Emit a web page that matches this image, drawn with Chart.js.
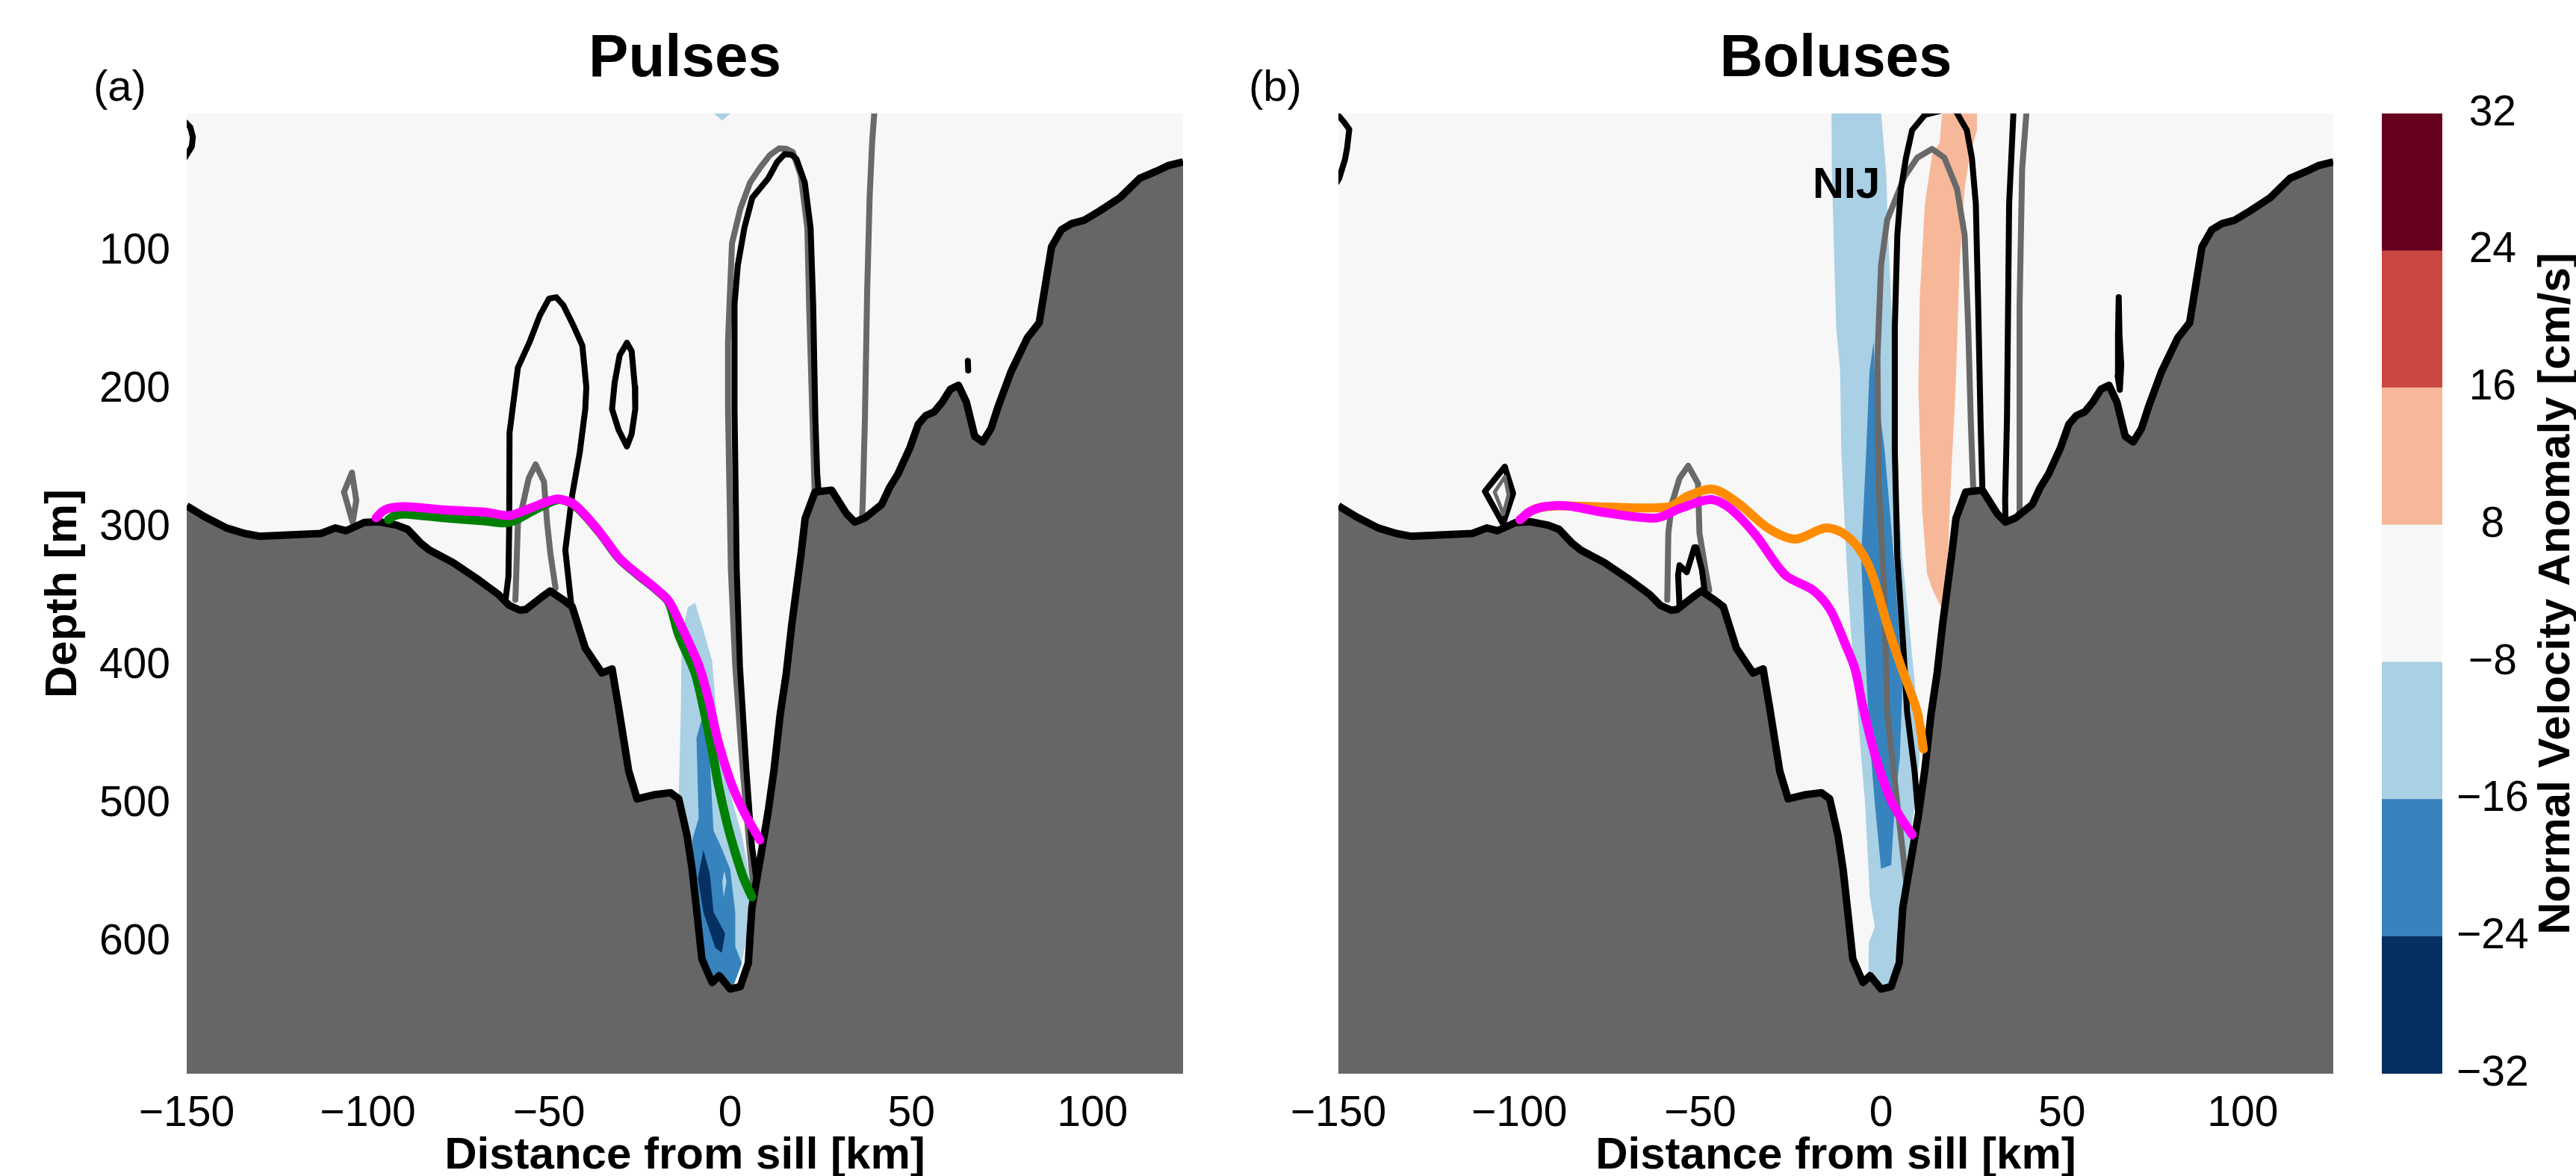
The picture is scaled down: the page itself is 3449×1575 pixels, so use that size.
<!DOCTYPE html>
<html>
<head>
<meta charset="utf-8">
<title>Pulses / Boluses</title>
<script src="https://cdn.jsdelivr.net/npm/chart.js@4.4.1/dist/chart.umd.min.js"></script>
<style>
  html, body { margin: 0; padding: 0; background: #fff; }
  #wrap { position: relative; width: 3449px; height: 1575px; overflow: hidden; }
  #wrap canvas { position: absolute; top: 0; }
</style>
</head>
<body>
<div id="wrap">
  <canvas id="panelA" width="1700" height="1575" style="left:0px"></canvas>
  <canvas id="panelB" width="1570" height="1575" style="left:1600px"></canvas>
  <canvas id="cbar" width="279" height="1575" style="left:3170px"></canvas>
</div>
<script>
// axis ticks
const xTicks = [-150, -100, -50, 0, 50, 100];
const yTicks = [100, 200, 300, 400, 500, 600];
const cbarTicks = ['\u221232', '\u221224', '\u221216', '\u22128', '8', '16', '24', '32'];
const cbarColors = ['#053061', '#3783bd', '#a9d0e4', '#f7f7f7', '#f7b899', '#ca4841', '#67001f'];

// sea floor, [km from sill, depth m]
const bathymetry = [[-150,284],[-145,292],[-139,300],[-134,304],[-130,306],[-121,305],[-113,304],[-109,300],[-106,302],[-101,296],[-97,295.5],[-92,298],[-89,301],[-85.4,311],[-83,316],[-76.5,325],[-70,336.5],[-64,348],[-61,356],[-58,359.5],[-56.4,359],[-52,350],[-49.7,345.6],[-46.3,351.6],[-43.6,357],[-40,387],[-35.4,405],[-32.6,402],[-30.8,430],[-28,476],[-25.7,496],[-20.7,493],[-16.5,491.6],[-14.2,496],[-11.9,522.6],[-10.5,547],[-9.2,578],[-7.8,612],[-5,629],[-3,624],[0,633.7],[2.8,632],[5,615],[6,575],[8.6,535],[10.5,505],[12.1,475],[13.8,435],[15.5,405],[17,370],[19.6,318],[20.7,293],[23.4,274],[28,272.6],[32.1,289.6],[34.4,295.7],[37.2,292.7],[41.8,283],[44,270.7],[46.3,261],[49.6,242],[51.9,225],[54,218.6],[56.3,216],[58.5,209],[60.8,199.5],[63,196.7],[65.2,209],[67.5,233.7],[69.7,237.7],[72,228],[74,211.8],[77.5,187],[82,162.5],[85.3,151.4],[88.7,96.6],[91.4,84.2],[94.3,79.6],[97.6,77.4],[102,70.5],[107.6,60.9],[113,47],[117.7,41.7],[121,37.6],[125,35]];

// panel (a): filled anomaly patches
const lightTipA = [[-5,-1],[0.5,-1],[-2.2,5]];
const lightA = [[-11.7,357.5],[-9.7,354],[-7.4,374],[-5,396],[-4.1,424],[-3.3,448],[-1.4,479],[3.2,522],[4.5,540],[6,565],[5.5,585],[4.5,597],[3.2,615],[0.5,634],[-3,624],[-5,629],[-7.8,612],[-9.2,578],[-10.5,547],[-11.9,522.6],[-14.2,496],[-13.6,430],[-13.4,377]];
const medA = [[-7.4,434],[-6,448],[-4.6,519],[-2.3,532],[0,547],[1.4,578],[1.4,603],[3.2,615],[0.5,634],[-3,624],[-5,629],[-7.8,612],[-9.7,553],[-10.5,526],[-8.7,510],[-9.3,452]];
const navyA = [[-7.4,533],[-5.6,550.5],[-4.6,578],[-1.4,593.5],[-2.3,607.5],[-4.1,604],[-7.4,578],[-8.9,553.5]];
const islandA = [[-1.6,548],[-1,556],[-1.8,567],[-2.2,556]];

// panel (a): contour lines
const blackArcA = [[-150.5,6],[-149,10],[-148.3,17],[-148.6,24],[-150.5,32]];
const grayDiamondA = [[-104.4,260],[-103.2,280],[-104.2,296],[-106.6,274],[-104.4,260]];
const blackTongueA = [[-62,352],[-61.2,335],[-61,300],[-60.9,231],[-58.6,184],[-55.3,165],[-52.5,146],[-50,134],[-48,133],[-46,139],[-43,155],[-40.8,168],[-39.7,198],[-40,214],[-41.5,245],[-43.6,276],[-45.5,316],[-44.5,340],[-43.8,357]];
const blackEllipseA = [[-28.5,166],[-27.2,172],[-26.3,198],[-26.2,214],[-27.2,232],[-28.5,241],[-30.8,229],[-32.6,214],[-31.9,195],[-30.5,175],[-28.5,166]];
const grayTongueA = [[-59.3,352],[-59.2,346],[-58.6,297],[-57.4,285],[-55.6,264],[-53.7,254],[-51.4,266.5],[-50.5,297],[-49.6,319],[-48.2,343.5]];
const grayLoopA = [[6.6,565],[5.3,530],[3.5,476],[1.4,400],[0.2,330],[-0.6,214],[-0.6,165],[0.5,94],[2.8,69],[5.5,50],[8.3,39],[11,30],[13.5,25.3],[15.5,25.5],[17.3,28],[19.5,45],[21.3,83],[21.8,140],[22.4,193],[23.3,272]];
const blackLoopA = [[7.3,556],[6,530],[4.5,476],[2.7,400],[1.8,330],[1.2,214],[1.2,138],[2.1,110],[3.9,83],[6.1,61],[10.5,47],[13,35],[15,29.4],[17,30],[18.3,33],[20.6,50],[22.2,83],[22.9,138],[23.5,220],[24,260],[24.4,274]];
const grayLineA = [[39.8,-1],[39.2,20],[38.5,60],[37.8,130],[37.2,220],[36.6,280],[36.4,294]];
const blackDotA = [[65.6,179],[65.7,186]];

// panel (a): plume paths
const greenA = [[-94.3,294],[-92.5,291],[-90,290],[-78.7,292.7],[-67.5,295],[-61,296],[-54,287],[-47.5,279.5],[-43,283.5],[-36.3,302.5],[-30.7,322],[-25.7,333.5],[-20.7,344],[-17,353.5],[-14.2,377.5],[-9.7,405],[-7.4,430],[-5,460.7],[-3.3,485.5],[-0.9,513.5],[1.4,535],[3.7,553.5],[6,567]];
const magentaA = [[-97.7,292.6],[-96,288],[-94.3,285.8],[-90,284.5],[-78.7,287],[-67.5,288.6],[-61,291],[-55.3,285.8],[-50,280.5],[-47.5,279],[-43,283],[-36.3,302],[-30.7,321.5],[-25.7,333],[-20.7,343.5],[-17,352.7],[-13.4,371.5],[-8.7,399],[-6,423.6],[-3.3,454.7],[0.4,485.5],[4.1,507],[8.2,525.8]];

// panel (b): filled anomaly patches
const lightB = [[-13.7,-1],[-13.6,43],[-12.4,155],[-11.3,187],[-11,244],[-9.6,321.5],[-8.6,366],[-7.2,411],[-5.8,455],[-4.4,500],[-3.1,567],[-1.7,589],[-3.4,600],[-3.5,629],[0.4,636],[3.1,631],[5.9,567],[7.2,544],[9.3,500],[10.7,466],[9.3,411],[5.9,321.5],[4,244],[3.1,155],[2,88],[1.4,43],[0,-1]];
const medB = [[-2.05,165],[-3.2,187],[-4.1,244],[-5.5,321.5],[-4.4,388],[-3.1,455],[-1.7,500],[0,546.6],[2.8,544],[3.8,500],[5.2,466],[5.9,411],[3.8,330],[1,244],[-1.8,187]];
const salmonB = [[16.9,-1],[16.2,21],[14.1,30],[12.1,65.6],[10.7,133],[10.3,199.6],[11.4,288.7],[12.7,333],[14.1,344],[16.5,357],[18.3,333],[19.3,266],[20.6,199.6],[21.7,110],[23.1,54.6],[24.4,32],[26.5,12],[26.5,-1]];

// panel (b): contour lines
const blackArcB = [[-150.5,0],[-148.5,6],[-147,11.5],[-147.6,25],[-148.2,33.5],[-149.8,47],[-150.5,50]];
const blackDiamondB = [[-104,255.7],[-101.7,275],[-104.5,297],[-109.5,273.5],[-104,255.7]];
const grayDiamondB = [[-104,263],[-103,276],[-104.4,290],[-106.8,274],[-104,263]];
const grayTongueB = [[-59.1,352],[-58.8,303.6],[-57.8,282],[-55.7,264],[-53.3,255],[-50.6,267.7],[-50.2,303.6],[-48.5,330.5],[-47.5,345]];
const blackSpikeB = [[-55.7,357],[-56.1,334],[-55.7,327],[-53.7,332],[-51.6,314],[-51.1,314],[-49.5,330.5],[-48.8,345]];
const grayLoopB = [[6.9,555],[4.5,500],[1.7,433],[0.8,340],[-0.7,266],[-1,177],[0,110],[1.7,77],[6.5,45.7],[10,32],[14.1,25.7],[17.5,32],[21,54.6],[23.1,88],[24.1,155],[24.8,222],[25.5,273]];
const blackLoopLeftB = [[16.5,-2],[12.1,1],[8.6,12],[6.9,32],[5.5,54.6],[4.5,88],[3.8,155],[3.8,244],[4.5,321],[6.2,388],[7.2,433],[9.3,477],[10.2,505]];
const blackLoopRightB = [[20.6,-2],[23.7,12],[25.1,32],[26.2,65.6],[26.8,133],[27.5,222],[28,271]];
const blackLineB = [[36.6,-1],[35.4,65.6],[34.8,222],[34.3,280],[34.4,295]];
const grayLineB = [[40.2,-1],[39,40],[38.3,137.6],[38.3,288],[38,293]];
const blackSpikeEastB = [[65.7,133],[65.9,160],[66.4,182],[66,200],[65.4,190],[65.5,160],[65.7,133]];

// panel (b): plume paths
const orangeB = [[-99.8,294],[-97.5,289],[-95.2,285.8],[-89.5,284],[-76,284.8],[-58.8,284.8],[-53.3,276.7],[-46.4,272],[-39.5,282],[-31.3,300],[-23.7,308],[-15.5,300],[-10.6,303.6],[-5.8,316],[-2.4,334],[1.7,370],[5.5,400],[10,433],[11.7,460]];
const magentaB = [[-99.8,294],[-97,288],[-92.9,284.5],[-86.7,284],[-76,289],[-62.2,292.8],[-55.4,285.7],[-47.1,279.4],[-41.8,285.7],[-34.7,305],[-26.5,334],[-18.9,344.8],[-14.1,359],[-9.9,384],[-7.2,402],[-5.1,428.5],[-1.7,464],[2.4,495],[5.2,508.6],[8.6,522]];

const FONT = '"Liberation Sans", Arial, Helvetica, sans-serif';
const LIGHT = cbarColors[2], MED = cbarColors[1], NAVY = cbarColors[0], SALMON = cbarColors[4];
const TOPO = '#666666', GRAY = '#696969', BLACK = '#000000';
const LW = 8;      // contour lines
const PATH_W = 12; // plume paths

const pts = (arr) => arr.map(([x, y]) => ({ x, y }));
const fmt = (v) => (v < 0 ? '\u2212' + Math.abs(v) : String(v));

function line(arr, color, width, order, tension = 0) {
  return { data: pts(arr), borderColor: color, borderWidth: width, fill: false, pointRadius: 0,
    tension, order, clip: 0, borderCapStyle: 'round', borderJoinStyle: 'round' };
}
function patch(arr, color, order) {
  return { data: pts(arr), borderColor: 'rgba(0,0,0,0)', borderWidth: 1, backgroundColor: color,
    fill: 'shape', pointRadius: 0, order, clip: 0 };
}
function seabed(order) {
  return { data: pts(bathymetry), borderColor: BLACK, borderWidth: 10, backgroundColor: TOPO,
    fill: 'start', pointRadius: 0, order, clip: 0, borderJoinStyle: 'round' };
}

// background, panel titles, letters and in-plot notes
function decor(cfg) {
  return {
    id: 'decor',
    beforeDatasetsDraw(chart) {
      if (!cfg.background) return;
      const { ctx, chartArea: a } = chart;
      ctx.save();
      ctx.fillStyle = cfg.background;
      ctx.fillRect(a.left, a.top, a.right - a.left, a.bottom - a.top);
      ctx.restore();
    },
    afterDraw(chart) {
      const { ctx, chartArea: a, scales } = chart;
      ctx.save();
      ctx.fillStyle = '#000';
      ctx.textBaseline = 'alphabetic';
      if (cfg.title) {
        ctx.font = `bold 80px ${FONT}`;
        ctx.textAlign = 'center';
        ctx.fillText(cfg.title, (a.left + a.right) / 2, 102);
      }
      if (cfg.letter) {
        ctx.font = `58px ${FONT}`;
        ctx.textAlign = 'left';
        ctx.fillText(cfg.letter, cfg.letterX, 135);
      }
      (cfg.notes || []).forEach(([text, km, depth]) => {
        ctx.font = `bold 58px ${FONT}`;
        ctx.textAlign = 'center';
        ctx.fillText(text, scales.x.getPixelForValue(km), scales.y.getPixelForValue(depth));
      });
      if (cfg.sideLabel) {
        ctx.translate(cfg.sideX, (a.top + a.bottom) / 2);
        ctx.rotate(-Math.PI / 2);
        ctx.font = `bold 60px ${FONT}`;
        ctx.textAlign = 'center';
        ctx.fillText(cfg.sideLabel, 0, 0);
      }
      ctx.restore();
    }
  };
}

function panelChart(id, datasets, cfg) {
  return new Chart(document.getElementById(id), {
    type: 'line',
    data: { datasets },
    options: {
      responsive: false, animation: false, events: [], devicePixelRatio: 1,
      layout: { padding: { top: 152, right: cfg.padRight, bottom: 0, left: 0 } },
      plugins: { legend: { display: false }, tooltip: { enabled: false } },
      scales: {
        x: {
          type: 'linear', min: -150, max: 125,
          grid: { display: false }, border: { display: false },
          afterBuildTicks: (s) => { s.ticks = xTicks.map((v) => ({ value: v })); },
          afterFit: (s) => { s.height = 137; },
          ticks: { font: { family: FONT, size: 57 }, color: '#000', padding: 12, maxRotation: 0, autoSkip: false, callback: fmt },
          title: { display: true, text: 'Distance from sill [km]', color: '#000',
            font: { family: FONT, size: 60, weight: 'bold', lineHeight: 0.9 }, padding: { top: 0, bottom: 0 } }
        },
        y: {
          type: 'linear', reverse: true, min: 0, max: 695,
          grid: { display: false }, border: { display: false },
          afterBuildTicks: (s) => { s.ticks = yTicks.map((v) => ({ value: v })); },
          afterFit: (s) => { s.width = cfg.yWidth; },
          ticks: { display: cfg.showY, font: { family: FONT, size: 57 }, color: '#000', padding: 14 },
          title: { display: cfg.showY, text: 'Depth [m]', color: '#000',
            font: { family: FONT, size: 60, weight: 'bold', lineHeight: 0.9 }, padding: { top: 58, bottom: 0 } }
        }
      }
    },
    plugins: [decor(cfg)]
  });
}

panelChart('panelA', [
  line(magentaA, '#ff00ff', PATH_W, 1, 0.3),
  line(greenA, '#008000', PATH_W, 2, 0.3),
  seabed(40),
  line(blackArcA, BLACK, LW, 45),
  line(blackTongueA, BLACK, LW, 45),
  line(blackEllipseA, BLACK, LW, 45),
  line(blackLoopA, BLACK, LW, 45),
  line(blackDotA, BLACK, LW, 45),
  line(grayDiamondA, GRAY, LW, 46),
  line(grayTongueA, GRAY, LW, 46),
  line(grayLoopA, GRAY, LW, 46),
  line(grayLineA, GRAY, LW, 46),
  patch(islandA, LIGHT, 47),
  patch(navyA, NAVY, 48),
  patch(medA, MED, 49),
  patch(lightA, LIGHT, 50),
  patch(lightTipA, LIGHT, 50)
], { title: 'Pulses', letter: '(a)', letterX: 125, background: '#f7f7f7', showY: true, yWidth: 250, padRight: 116 });

panelChart('panelB', [
  line(magentaB, '#ff00ff', PATH_W, 1, 0.3),
  line(orangeB, '#ff8c00', PATH_W, 2, 0.3),
  seabed(40),
  line(blackArcB, BLACK, LW, 45),
  line(blackDiamondB, BLACK, LW, 45),
  line(blackSpikeB, BLACK, LW, 45),
  line(blackLoopLeftB, BLACK, LW, 45),
  line(blackLoopRightB, BLACK, LW, 45),
  line(blackLineB, BLACK, LW, 45),
  line(blackSpikeEastB, BLACK, LW, 45),
  line(grayDiamondB, GRAY, 5, 44),
  line(grayTongueB, GRAY, LW, 46),
  line(grayLoopB, GRAY, LW, 46),
  line(grayLineB, GRAY, LW, 46),
  patch(medB, MED, 49),
  patch(salmonB, SALMON, 50),
  patch(lightB, LIGHT, 50)
], { title: 'Boluses', letter: '(b)', letterX: 72, background: '#f7f7f7', showY: false, yWidth: 192, padRight: 46,
     notes: [['NIJ', -9.6, 60.9]] });

// colour bar: one floating bar per contour band
new Chart(document.getElementById('cbar'), {
  type: 'bar',
  data: {
    labels: [''],
    datasets: cbarColors.map((c, i) => ({ data: [[i, i + 1]], backgroundColor: c, borderWidth: 0,
      barPercentage: 1, categoryPercentage: 1, grouped: false }))
  },
  options: {
    responsive: false, animation: false, events: [], devicePixelRatio: 1,
    layout: { padding: { left: 19, top: 152, bottom: 137, right: 0 } },
    plugins: { legend: { display: false }, tooltip: { enabled: false } },
    scales: {
      x: { display: false },
      y: {
        position: 'right', min: 0, max: 7,
        grid: { display: false }, border: { display: false },
        afterBuildTicks: (s) => { s.ticks = cbarTicks.map((_, i) => ({ value: i })); },
        afterFit: (s) => { s.width = 179; },
        ticks: { font: { family: FONT, size: 57 }, color: '#000', padding: 11, crossAlign: 'center',
          callback: (v) => cbarTicks[v] }
      }
    }
  },
  plugins: [decor({ sideLabel: 'Normal Velocity Anomaly [cm/s]', sideX: 270 })]
});
</script>
</body>
</html>
